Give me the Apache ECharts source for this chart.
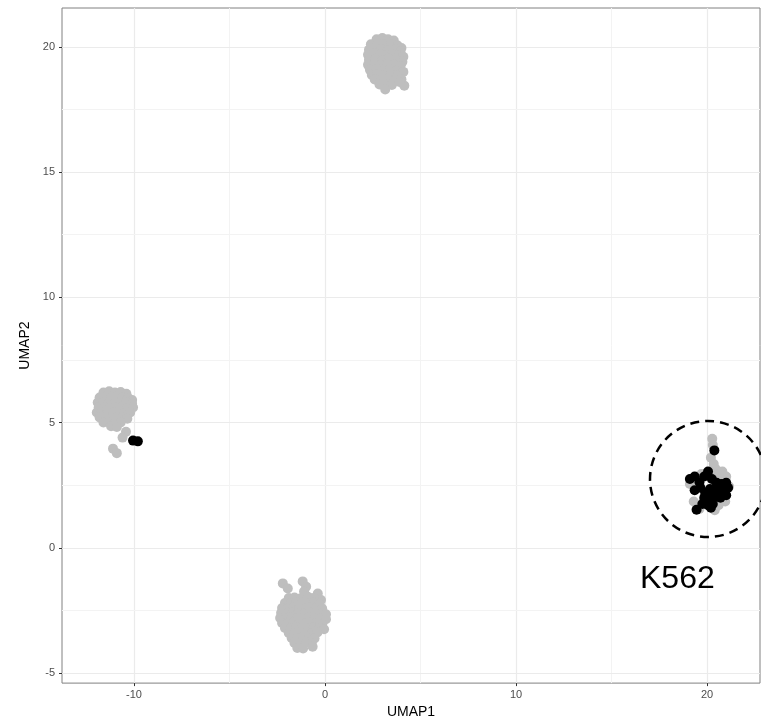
<!DOCTYPE html>
<html>
<head>
<meta charset="utf-8">
<script src="https://cdn.jsdelivr.net/npm/echarts@6/dist/echarts.min.js"></script>
<style>html,body{margin:0;padding:0;background:#fff;}#c{width:761px;height:724px;}</style>
</head>
<body>
<div id="c"></div>
<script>
const X_TICKS = [-10, 0, 10, 20];
const Y_TICKS = [-5, 0, 5, 10, 15, 20];
const GRID_X_MINOR = [-5, 5, 15];
const GRID_Y_MINOR = [-2.5, 2.5, 7.5, 12.5, 17.5];

const TOP_GRAY = [
[2.7,20.3],[3.0,20.35],[3.3,20.3],[3.6,20.25],
[2.4,20.1],[2.75,20.12],[3.1,20.08],[3.45,20.1],[3.8,20.05],[4.0,19.95],
[2.3,19.88],[2.6,19.92],[2.95,19.9],[3.3,19.86],[3.65,19.9],[3.95,19.8],
[2.25,19.68],[2.55,19.72],[2.9,19.7],[3.2,19.66],[3.5,19.7],[3.85,19.65],[4.1,19.6],
[2.3,19.48],[2.65,19.5],[3.0,19.46],[3.35,19.52],[3.7,19.48],[4.05,19.4],
[2.25,19.28],[2.6,19.3],[2.9,19.26],[3.25,19.3],[3.6,19.28],[3.95,19.22],
[2.35,19.08],[2.7,19.1],[3.05,19.06],[3.4,19.1],[3.75,19.05],[4.1,19.0],
[2.45,18.88],[2.75,18.9],[3.1,18.86],[3.45,18.9],[3.8,18.85],
[2.6,18.7],[2.95,18.68],[3.3,18.72],[3.65,18.66],[4.0,18.7],
[2.85,18.5],[3.2,18.52],[3.5,18.48],
[3.15,18.3],[4.15,18.45],[3.9,18.6]
];

const LEFT_GRAY = [
[-11.6,6.2],[-11.3,6.25],[-11.0,6.2],[-10.7,6.22],[-10.4,6.15],
[-11.8,6.0],[-11.5,6.02],[-11.2,6.0],[-10.9,6.04],[-10.6,6.0],[-10.3,5.98],[-10.1,5.9],
[-11.9,5.8],[-11.6,5.82],[-11.3,5.8],[-11.0,5.78],[-10.7,5.82],[-10.4,5.8],[-10.1,5.75],
[-11.85,5.6],[-11.55,5.62],[-11.25,5.58],[-10.95,5.6],[-10.65,5.62],[-10.35,5.58],[-10.05,5.6],
[-11.95,5.4],[-11.7,5.42],[-11.4,5.38],[-11.1,5.4],[-10.8,5.42],[-10.5,5.38],[-10.2,5.4],
[-11.8,5.2],[-11.5,5.22],[-11.2,5.18],[-10.9,5.2],[-10.6,5.22],[-10.35,5.15],
[-11.6,5.0],[-11.3,5.02],[-11.0,4.98],[-10.7,5.0],
[-11.2,4.85],[-10.9,4.82],
[-10.42,4.63],[-10.6,4.4],[-11.1,3.96],[-10.9,3.78]
];
const LEFT_BLACK = [[-10.05,4.28],[-9.8,4.25]];

const BOTTOM_GRAY = [
[-2.21,-1.42],[-1.95,-1.62],[-1.17,-1.34],[-0.99,-1.55],[-1.1,-1.74],[-0.38,-1.82],[-0.21,-2.08],
[-1.9,-2.0],[-1.6,-1.98],[-1.3,-2.02],[-0.9,-1.95],[-0.6,-2.0],
[-2.1,-2.2],[-1.8,-2.22],[-1.5,-2.18],[-1.2,-2.2],[-0.9,-2.22],[-0.6,-2.18],[-0.3,-2.25],
[-2.25,-2.4],[-1.95,-2.42],[-1.65,-2.38],[-1.35,-2.4],[-1.05,-2.42],[-0.75,-2.38],[-0.45,-2.4],[-0.15,-2.42],
[-2.3,-2.6],[-2.0,-2.62],[-1.7,-2.58],[-1.4,-2.6],[-1.1,-2.62],[-0.8,-2.58],[-0.5,-2.6],[-0.2,-2.62],[0.05,-2.65],
[-2.35,-2.8],[-2.05,-2.82],[-1.75,-2.78],[-1.45,-2.8],[-1.15,-2.82],[-0.85,-2.78],[-0.55,-2.8],[-0.25,-2.82],[0.05,-2.85],
[-2.25,-3.0],[-1.95,-3.02],[-1.65,-2.98],[-1.35,-3.0],[-1.05,-3.02],[-0.75,-2.98],[-0.45,-3.0],[-0.15,-3.05],
[-2.1,-3.2],[-1.8,-3.22],[-1.5,-3.18],[-1.2,-3.2],[-0.9,-3.22],[-0.6,-3.18],[-0.3,-3.2],[-0.05,-3.25],
[-1.9,-3.4],[-1.6,-3.42],[-1.3,-3.38],[-1.0,-3.4],[-0.7,-3.42],[-0.4,-3.38],
[-1.75,-3.6],[-1.45,-3.62],[-1.15,-3.58],[-0.85,-3.6],[-0.55,-3.62],
[-1.6,-3.8],[-1.3,-3.82],[-1.0,-3.78],[-0.7,-3.8],
[-1.45,-4.0],[-1.15,-4.02],[-0.65,-3.95]
];

const K562_GRAY = [
[20.27,4.35],[20.3,4.1],[20.2,3.6],[20.35,3.35],[20.45,3.15],[20.8,3.05],[21.0,2.85],
[20.6,2.9],[20.3,3.0],[21.15,2.45],[19.3,1.85],[19.6,1.55],[20.6,1.7],[20.95,1.85],
[20.4,1.5],[19.1,2.55],[19.7,2.95]
];
const K562_BLACK = [
[20.38,3.89],
[19.1,2.75],[19.35,2.85],[19.6,2.62],[19.85,2.85],[20.05,3.05],
[20.25,2.75],[20.5,2.6],[20.75,2.55],[21.0,2.6],[21.1,2.4],
[19.35,2.3],[19.65,2.4],[19.9,2.2],[20.15,2.35],[20.4,2.3],[20.65,2.3],[20.9,2.25],
[19.85,2.0],[20.15,2.0],[20.45,2.05],[20.7,2.0],[21.0,2.1],
[19.75,1.75],[20.05,1.7],[20.3,1.75],
[19.45,1.52],[20.2,1.6]
];

const GRAY = '#BEBEBE';
const FONT = 'Liberation Sans, Arial, sans-serif';

const gridLines = [];
X_TICKS.forEach(v => gridLines.push({xAxis: v, lineStyle: {color: '#EBEBEB', width: 1.2, type: 'solid'}}));
GRID_X_MINOR.forEach(v => gridLines.push({xAxis: v, lineStyle: {color: '#F3F3F3', width: 1, type: 'solid'}}));
Y_TICKS.forEach(v => gridLines.push({yAxis: v, lineStyle: {color: '#EBEBEB', width: 1.2, type: 'solid'}}));
GRID_Y_MINOR.forEach(v => gridLines.push({yAxis: v, lineStyle: {color: '#F3F3F3', width: 1, type: 'solid'}}));

const chart = echarts.init(document.getElementById('c'), null, {renderer: 'canvas'});
chart.setOption({
  animation: false,
  backgroundColor: '#fff',
  grid: {left: 62, top: 8, right: 1, bottom: 39, show: true, borderColor: '#808080', borderWidth: 1, backgroundColor: 'transparent'},
  xAxis: {
    type: 'value', min: -13.77, max: 22.77,
    name: 'UMAP1', nameLocation: 'middle', nameGap: 21,
    nameTextStyle: {fontFamily: FONT, fontSize: 14, color: '#000'},
    axisLine: {show: false, onZero: false},
    axisTick: {show: true, length: 3, customValues: X_TICKS, lineStyle: {color: '#333'}},
    axisLabel: {customValues: X_TICKS, margin: 6, fontFamily: FONT, fontSize: 11, color: '#4D4D4D'},
    splitLine: {show: false}
  },
  yAxis: {
    type: 'value', min: -5.4, max: 21.55,
    name: 'UMAP2', nameLocation: 'middle', nameGap: 30, nameRotate: 90,
    nameTextStyle: {fontFamily: FONT, fontSize: 14, color: '#000'},
    axisLine: {show: false, onZero: false},
    axisTick: {show: true, length: 3, customValues: Y_TICKS, lineStyle: {color: '#333'}},
    axisLabel: {customValues: Y_TICKS, margin: 7, fontFamily: FONT, fontSize: 11, color: '#4D4D4D'},
    splitLine: {show: false}
  },
  series: [
    {type: 'scatter', data: [], z: 0, silent: true,
     markLine: {z: 0, silent: true, symbol: ['none', 'none'], label: {show: false}, data: gridLines}},
    {type: 'scatter', z: 10, symbolSize: 10, itemStyle: {color: GRAY, opacity: 1}, data: TOP_GRAY},
    {type: 'scatter', z: 10, symbolSize: 10, itemStyle: {color: GRAY, opacity: 1}, data: LEFT_GRAY},
    {type: 'scatter', z: 10, symbolSize: 10, itemStyle: {color: GRAY, opacity: 1}, data: BOTTOM_GRAY},
    {type: 'scatter', z: 10, symbolSize: 10, itemStyle: {color: GRAY, opacity: 1}, data: K562_GRAY},
    {type: 'scatter', z: 11, symbolSize: 10, itemStyle: {color: '#000', opacity: 1}, data: LEFT_BLACK},
    {type: 'scatter', z: 11, symbolSize: 10, itemStyle: {color: '#000', opacity: 1}, data: K562_BLACK}
  ],
  graphic: [
    {type: 'circle', z: 100, shape: {cx: 708, cy: 479, r: 58},
     style: {fill: 'none', stroke: '#000', lineWidth: 2.5, lineDash: [9, 6]}},
    {type: 'text', z: 100, left: 640, top: 563,
     style: {text: 'K562', font: '32px "Liberation Sans", Arial, sans-serif', fill: '#000'}}
  ]
});
</script>
</body>
</html>
